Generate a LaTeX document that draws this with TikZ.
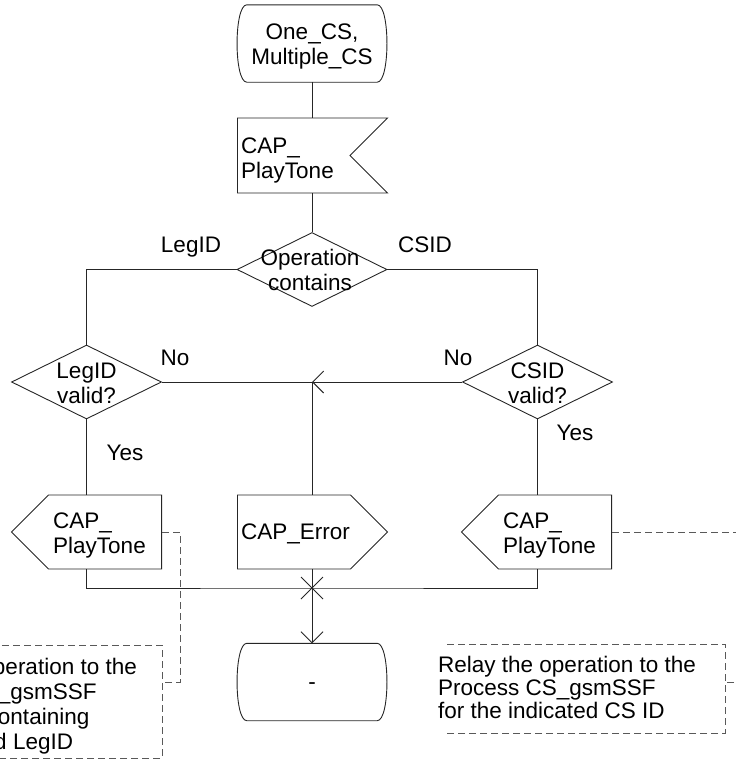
\documentclass[tikz,border=0pt]{standalone}
\usepackage{fontspec}
\setmainfont{Liberation Sans}
\usetikzlibrary{arrows.meta,positioning,shapes.geometric,shapes.symbols}

\tikzset{
  sdl/.style={draw=black!85,line width=0.9pt,inner sep=0pt},
  term/.style={inner sep=0pt,minimum width=150pt,minimum height=77pt},
  decide/.style={sdl,diamond,minimum width=150pt,minimum height=74pt},
  sigin/.style={sdl,signal,signal to=nowhere,signal from=east,
    signal pointer angle=90,minimum width=150pt,minimum height=75pt},
  sigout/.style={sdl,signal,signal to=#1,signal pointer angle=90,
    minimum width=150pt,minimum height=74pt},
  txt/.style={font=\fontsize{22.5}{25}\selectfont,inner sep=0pt,align=#1},
  txt/.default=center,
  flow/.style={draw=black!85,line width=0.9pt},
  note/.style={draw=black!65,line width=1pt,dash pattern=on 7pt off 4pt},
  tip/.style={-{Straight Barb[length=11pt,width=22pt]}}
}

\begin{document}
\begin{tikzpicture}[x=1pt,y=-1pt]
\useasboundingbox (0,0) rectangle (736,763);
\clip (0,0) rectangle (736,763);

% symbols
\node[term] (start) at (312,43.5) {};
\node[sigin,anchor=west] (sig) at (237,155.5) {};
\node[decide] (opc) at (312,269.5) {};
\node[decide] (legv) at (86.5,382) {};
\node[decide] (csv) at (537.5,382) {};
\node[sigout=west,anchor=east] (ptl) at (162,532) {};
\node[sigout=east,anchor=west] (err) at (237,532) {};
\node[sigout=west,anchor=east] (ptr) at (612,532) {};
\node[term] (stop) at (312,682) {};
\coordinate (join) at (312,382);
\coordinate (merge) at (312,588);

% start / stop outlines
\foreach \n in {start,stop}
  \draw[flow] ([xshift=10pt]\n.north west) -- ([xshift=-10pt]\n.north east)
    .. controls ([xshift=3pt]\n.north east) and ([xshift=3pt]\n.south east) .. ([xshift=-10pt]\n.south east)
    -- ([xshift=10pt]\n.south west)
    .. controls ([xshift=-3pt]\n.south west) and ([xshift=-3pt]\n.north west) .. cycle;

% texts
\node[txt,anchor=north] (start-t) at (312,23.5) {One\_CS,\\Multiple\_CS};
\node[txt=left,anchor=north west] (sig-t) at (241,137.5) {CAP\_\\PlayTone};
\node[txt,anchor=north] (opc-t) at (310,248.5) {Operation\\contains};
\node[txt,anchor=north] (legv-t) at (86.5,362.5) {LegID\\valid?};
\node[txt,anchor=north] (csv-t) at (537.5,362.5) {CSID\\valid?};
\node[txt=left,anchor=north west] (ptl-t) at (53,512.5) {CAP\_\\PlayTone};
\node[txt,anchor=base west] (err-t) at (241,539) {CAP\_Error};
\node[txt=left,anchor=north west] (ptr-t) at (503,512.5) {CAP\_\\PlayTone};
\node[txt,anchor=base] (stop-t) at (312,689) {-};

% branch labels
\node[txt,anchor=base] (l-leg) at (191,252) {LegID};
\node[txt,anchor=base] (l-cs) at (425,252) {CSID};
\node[txt,anchor=base] (l-no1) at (175,365) {No};
\node[txt,anchor=base] (l-no2) at (458,365) {No};
\node[txt,anchor=base] (l-yes1) at (125,460) {Yes};
\node[txt,anchor=base] (l-yes2) at (575,440) {Yes};

% flow lines
\draw[flow] (start) -- (start |- sig.north);
\draw[flow] (start |- sig.south) -- (opc);
\draw[flow] (opc.west) -| (legv.north);
\draw[flow] (opc.east) -| (csv.north);
\draw[flow] (legv.east) -- (join);
\draw[flow,tip] (csv.west) -- (join);
\draw[flow] (join) -- (join |- err.north);
\draw[flow] (legv.south) -- (legv.south |- ptl.north);
\draw[flow] (csv.south) -- (csv.south |- ptr.north);
\draw[flow] (legv.south |- ptl.south) |- (merge) -| (csv.south |- ptr.south);
\draw[flow] (join |- err.south) -- (merge);
\draw[flow,tip] (merge) -- (stop);
\draw[flow] ([shift={(-11,-11)}]merge) -- ([shift={(11,11)}]merge);
\draw[flow] ([shift={(-11,11)}]merge) -- ([shift={(11,-11)}]merge);

% comments
\coordinate (lnote) at (162,682);
\coordinate (rnote) at (725,682);
\draw[note] (-130,645) -- (162,645) -- (162,758) -- (-130,758);
\draw[note] (ptl.east) -- ++(18,0) |- (lnote);
\node[txt=left,anchor=north west] (lnote-t) at (-121,657.5)
  {Relay the operation to the\\Process CS\_gsmSSF\\for the CS containing\\the indicated LegID};
\draw[note] (447,644) -- (725,644) -- (725,733) -- (447,733);
\draw[note] (ptr.east) -- ++(140,0) |- (rnote);
\node[txt=left,anchor=north west,font=\fontsize{22.5}{23}\selectfont] (rnote-t) at (438,655.5)
  {Relay the operation to the\\Process CS\_gsmSSF\\for the indicated CS ID};
\end{tikzpicture}
\end{document}
